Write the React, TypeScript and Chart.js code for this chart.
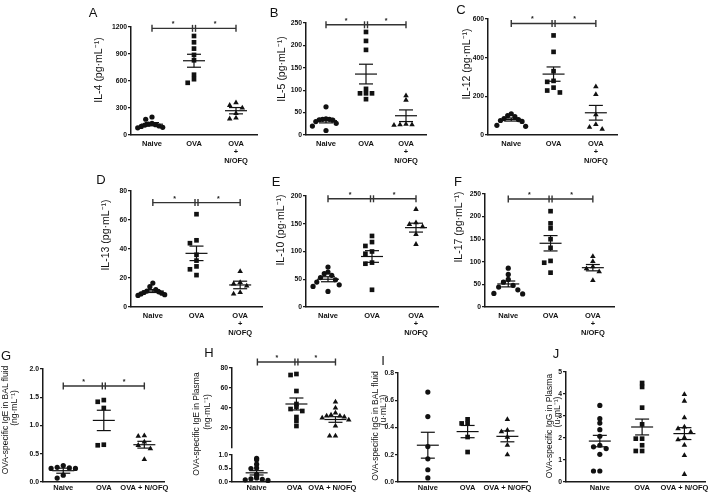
import React, { useEffect, useRef } from 'react';
import { Chart, registerables } from 'chart.js';

Chart.register(...registerables);

// ---------------- categories ----------------
const CATS_STACKED = [['Naive'], ['OVA'], ['OVA', '+', 'N/OFQ']];
const CATS_INLINE = ['Naive', 'OVA', 'OVA + N/OFQ'];

// ---------------- A: IL-4 ----------------
const A_NAIVE = [200, 175, 130, 120, 115, 110, 100, 95, 85, 80];
const A_OVA = [1100, 1030, 960, 890, 830, 670, 620, 580];
const A_NOFQ = [360, 330, 300, 240, 190, 180];
const A_MEAN = [120, 825, 270];
const A_SEM = [18, 72, 35];
const A_SIG = 1185;
const A_TICKS = [0, 300, 600, 900, 1200];

// ---------------- B: IL-5 ----------------
const B_NAIVE = [63, 36, 35, 35, 34, 33, 30, 26, 20, 10];
const B_OVA = [230, 210, 190, 103, 93, 93, 93, 80];
const B_NOFQ = [88, 78, 24, 23, 23, 22];
const B_MEAN = [32, 136, 43];
const B_SEM = [5, 22, 13];
const B_SIG = 246;
const B_TICKS = [0, 50, 100, 150, 200, 250];

// ---------------- C: IL-12 ----------------
const C_NAIVE = [110, 100, 95, 85, 80, 75, 70, 50, 45];
const C_OVA = [515, 430, 330, 280, 275, 245, 230, 220];
const C_NOFQ = [250, 210, 105, 55, 40, 30];
const C_MEAN = [80, 315, 115];
const C_SEM = [8, 37, 38];
const C_SIG = 577;
const C_TICKS = [0, 200, 400, 600];

// ---------------- D: IL-13 ----------------
const D_NAIVE = [16.5, 14, 12, 11, 10.5, 10, 9.5, 9, 8.5, 8];
const D_OVA = [64, 46, 44, 36, 32, 28, 26, 22];
const D_NOFQ = [24.5, 17, 16, 14.5, 10, 9];
const D_MEAN = [11, 37, 15.2];
const D_SEM = [1, 5, 2.6];
const D_SIG = 72;
const D_TICKS = [0, 20, 40, 60, 80];

// ---------------- E: IL-10 ----------------
const E_NAIVE = [72, 63, 60, 57, 53, 49, 45, 40, 37, 28];
const E_OVA = [128, 117, 110, 100, 96, 80, 78, 31];
const E_NOFQ = [176, 152, 149, 145, 131, 113];
const E_MEAN = [50, 91, 143];
const E_SEM = [4.5, 10.5, 8];
const E_SIG = 195;
const E_TICKS = [0, 50, 100, 150, 200];

// ---------------- F: IL-17 ----------------
const F_NAIVE = [86, 72, 61, 55, 48, 44, 38, 30, 29];
const F_OVA = [212, 185, 174, 150, 131, 102, 98, 76];
const F_NOFQ = [112, 101, 89, 85, 78, 59];
const F_MEAN = [51, 141, 87];
const F_SEM = [6.5, 17, 7];
const F_SIG = 239;
const F_TICKS = [0, 50, 100, 150, 200, 250];

// ---------------- G: OVA-specific IgE in BAL fluid ----------------
const G_NAIVE = [0.29, 0.26, 0.25, 0.24, 0.24, 0.12, 0.07];
const G_OVA = [1.45, 1.42, 1.31, 0.66, 0.65];
const G_NOFQ = [0.82, 0.81, 0.71, 0.65, 0.59, 0.4];
const G_MEAN = [0.2, 1.09, 0.66];
const G_SEM = [0.045, 0.18, 0.06];
const G_SIG = 1.7;
const G_TICKS = [0, 0.5, 1.0, 1.5, 2.0];

// ---------------- H: OVA-specific IgE in Plasma (broken axis) ----------------
const H_NAIVE = [0.88, 0.82, 0.66, 0.52, 0.5, 0.28, 0.2, 0.15, 0.12, 0.1, 0.08, 0.06];
const H_OVA = [74, 73, 57, 44, 41, 39, 37, 31, 27, 22];
const H_NOFQ = [46, 40, 35, 33, 32, 32, 31, 30, 28, 22, 12, 12];
const H_MEAN_LOW = [0.34, null, null];
const H_SEM_LOW = [0.08, 0, 0];
const H_MEAN_UP = [null, 44, 28.5];
const H_SEM_UP = [0, 6, 2.8];
const H_SIG = 86;
const H_TICKS_UP = [20, 40, 60, 80];
const H_TICKS_LOW = [0, 0.5, 1.0];

// ---------------- I: OVA-specific IgG in BAL fluid ----------------
const I_NAIVE = [0.66, 0.48, 0.26, 0.17, 0.09, 0.03];
const I_OVA = [0.46, 0.43, 0.43, 0.33, 0.22];
const I_NOFQ = [0.46, 0.38, 0.37, 0.33, 0.27, 0.2];
const I_MEAN = [0.27, 0.37, 0.335];
const I_SEM = [0.095, 0.045, 0.04];
const I_TICKS = [0, 0.2, 0.4, 0.6, 0.8];

// ---------------- J: OVA-specific IgG in Plasma ----------------
const J_NAIVE = [3.48, 2.88, 2.68, 2.38, 2.08, 1.67, 1.6, 1.52, 1.26, 0.5, 0.5];
const J_OVA = [4.5, 4.32, 3.38, 2.62, 1.97, 1.97, 1.67, 1.41, 1.41];
const J_NOFQ = [3.98, 3.68, 2.92, 2.5, 2.42, 2.27, 2.02, 1.92, 1.67, 1.21, 0.35];
const J_MEAN = [1.86, 2.5, 2.2];
const J_SEM = [0.26, 0.36, 0.27];
const J_TICKS = [0, 1, 2, 3, 4, 5];

// ---------------- styling / layout ----------------
const AX = '#1a1a1a';
const INK = '#111';
const FONT = '"Liberation Sans", Arial, sans-serif';
const XTICK_FONT = { family: FONT, size: 7.5, weight: 'bold' as const, lineHeight: 1.1 };
const YTICK_FONT = { family: FONT, size: 6.8, weight: 'bold' as const, lineHeight: 1.1 };
const YW = 40;
const PR = 4;
const STY = [
  { pointStyle: 'circle', radius: 2.6 },
  { pointStyle: 'rect', radius: 3.3 },
  { pointStyle: 'triangle', radius: 3.2 },
];

type Geo = {
  axisX: number; top: number; bottom: number; right: number;
  xmin: number; xmax: number; padTop: number; padBottom: number;
  xH: number; xPad: number; showX: boolean;
};

type PanelDef = {
  id: string;
  groups: number[][];
  means: (number | null)[];
  sems: number[];
  sig: number | null;
  yTicks: number[];
  yMin: number;
  yMax: number;
  dec: number;
  cats: (string | string[])[];
  geo: Geo;
};

const topGeo = (axisX: number, top: number, bottom: number, right: number, xmin = -0.5): Geo => ({
  axisX, top, bottom, right, xmin, xmax: 2.5, padTop: 12, padBottom: 0, xH: 30, xPad: 5, showX: true,
});
const botGeo = (axisX: number, top: number, bottom: number, right: number, xmin = -0.5): Geo => ({
  axisX, top, bottom, right, xmin, xmax: 2.5, padTop: 12, padBottom: 0, xH: 12, xPad: 2, showX: true,
});

const PANELS: PanelDef[] = [
  { id: 'A', groups: [A_NAIVE, A_OVA, A_NOFQ], means: A_MEAN, sems: A_SEM, sig: A_SIG, yTicks: A_TICKS, yMin: 0, yMax: 1200, dec: 0, cats: CATS_STACKED, geo: topGeo(131, 27, 135, 257) },
  { id: 'B', groups: [B_NAIVE, B_OVA, B_NOFQ], means: B_MEAN, sems: B_SEM, sig: B_SIG, yTicks: B_TICKS, yMin: 0, yMax: 250, dec: 0, cats: CATS_STACKED, geo: topGeo(306, 23, 135, 426) },
  { id: 'C', groups: [C_NAIVE, C_OVA, C_NOFQ], means: C_MEAN, sems: C_SEM, sig: C_SIG, yTicks: C_TICKS, yMin: 0, yMax: 600, dec: 0, cats: CATS_STACKED, geo: topGeo(488, 19, 135, 617, -0.55) },
  { id: 'D', groups: [D_NAIVE, D_OVA, D_NOFQ], means: D_MEAN, sems: D_SEM, sig: D_SIG, yTicks: D_TICKS, yMin: 0, yMax: 80, dec: 0, cats: CATS_STACKED, geo: topGeo(131, 191, 307, 262) },
  { id: 'E', groups: [E_NAIVE, E_OVA, E_NOFQ], means: E_MEAN, sems: E_SEM, sig: E_SIG, yTicks: E_TICKS, yMin: 0, yMax: 200, dec: 0, cats: CATS_STACKED, geo: topGeo(306, 196, 307, 438) },
  { id: 'F', groups: [F_NAIVE, F_OVA, F_NOFQ], means: F_MEAN, sems: F_SEM, sig: F_SIG, yTicks: F_TICKS, yMin: 0, yMax: 250, dec: 0, cats: CATS_STACKED, geo: topGeo(485, 194, 307, 614, -0.55) },
  { id: 'G', groups: [G_NAIVE, G_OVA, G_NOFQ], means: G_MEAN, sems: G_SEM, sig: G_SIG, yTicks: G_TICKS, yMin: 0, yMax: 2, dec: 1, cats: CATS_INLINE, geo: botGeo(43, 369, 482, 167) },
  { id: 'Hup', groups: [[], H_OVA, H_NOFQ], means: H_MEAN_UP, sems: H_SEM_UP, sig: H_SIG, yTicks: H_TICKS_UP, yMin: 0, yMax: 80, dec: 0, cats: CATS_INLINE,
    geo: { axisX: 232, top: 368, bottom: 448, right: 355, xmin: -0.65, xmax: 2.5, padTop: 16, padBottom: 5, xH: 0, xPad: 2, showX: false } },
  { id: 'Hlow', groups: [H_NAIVE, [], []], means: H_MEAN_LOW, sems: H_SEM_LOW, sig: null, yTicks: H_TICKS_LOW, yMin: 0, yMax: 1, dec: 1, cats: CATS_INLINE,
    geo: { axisX: 232, top: 455, bottom: 482, right: 355, xmin: -0.65, xmax: 2.5, padTop: 5, padBottom: 0, xH: 12, xPad: 2, showX: true } },
  { id: 'I', groups: [I_NAIVE, I_OVA, I_NOFQ], means: I_MEAN, sems: I_SEM, sig: null, yTicks: I_TICKS, yMin: 0, yMax: 0.8, dec: 1, cats: CATS_INLINE, geo: botGeo(398, 373, 482, 530, -0.75) },
  { id: 'J', groups: [J_NAIVE, J_OVA, J_NOFQ], means: J_MEAN, sems: J_SEM, sig: null, yTicks: J_TICKS, yMin: 0, yMax: 5, dec: 0, cats: CATS_INLINE, geo: botGeo(566, 372, 482, 707, -0.8) },
];

const LETTERS: [string, number, number][] = [
  ['A', 93, 12], ['B', 274, 12], ['C', 461, 9], ['D', 101, 179], ['E', 276, 181], ['F', 458, 181],
  ['G', 6, 355], ['H', 209, 352], ['I', 383, 360], ['J', 556, 353],
];

const SUP = '\u207B\u00B9';
const TITLES: [string, number, number, number][] = [
  [`IL-4 (pg·mL${SUP})`, 98, 70, 10.5],
  [`IL-5 (pg·mL${SUP})`, 281, 69, 10.5],
  [`IL-12 (pg·mL${SUP})`, 466, 64, 10.5],
  [`IL-13 (pg·mL${SUP})`, 105, 235, 10.5],
  [`IL-10 (pg·mL${SUP})`, 280, 230, 10.5],
  [`IL-17 (pg·mL${SUP})`, 458, 227, 10.5],
  ['OVA-specific IgE in BAL fluid', 5, 420, 8.5],
  [`(ng·mL${SUP})`, 14, 408, 8.5],
  ['OVA-specific IgE in Plasma', 196, 424, 8.5],
  [`(ng·mL${SUP})`, 207, 412, 8.5],
  ['OVA-specific IgG in BAL fluid', 375, 426, 8.5],
  [`(u·mL${SUP})`, 383, 410, 8.5],
  ['OVA-specific IgG in Plasma', 549, 426, 8.5],
  [`(u·mL${SUP})`, 557, 412, 8.5],
];

// deterministic horizontal spread for points with close values
function spread(values: number[], thr: number): number[] {
  const idx = values.map((_, i) => i).sort((a, b) => values[b] - values[a]);
  const offs = new Array(values.length).fill(0);
  let i = 0;
  while (i < idx.length) {
    let j = i + 1;
    while (j < idx.length && values[idx[j - 1]] - values[idx[j]] < thr) j++;
    const k = j - i;
    const half = Math.ceil((k - 1) / 2);
    const step = half > 0 ? Math.min(0.15, 0.34 / half) : 0;
    for (let m = 0; m < k; m++) {
      const s = m === 0 ? 0 : (m % 2 === 1 ? -1 : 1) * Math.ceil(m / 2);
      offs[idx[i + m]] = s * step;
    }
    i = j;
  }
  return offs;
}

function PanelChart({ def }: { def: PanelDef }) {
  const ref = useRef<HTMLCanvasElement>(null);
  const g = def.geo;
  const left = g.axisX - YW;
  const ctop = g.top - g.padTop;
  const width = g.right + PR - left;
  const height = g.bottom + (g.showX ? g.xH : g.padBottom) - ctop;

  useEffect(() => {
    if (!ref.current) return;
    const thr = (def.yMax - def.yMin) * 0.035;
    const datasets = def.groups.map((vals, gi) => {
      const offs = spread(vals, thr);
      return {
        type: 'scatter' as const,
        data: vals.map((v, k) => ({ x: gi + offs[k], y: v })),
        pointStyle: STY[gi].pointStyle as any,
        pointRadius: STY[gi].radius,
        pointBackgroundColor: INK,
        pointBorderColor: INK,
        pointBorderWidth: 0,
        showLine: false,
        clip: false as any,
      };
    });

    const marks = {
      id: 'marks' + def.id,
      afterDatasetsDraw(chart: any) {
        const { ctx } = chart;
        const xs = chart.scales.x;
        const ys = chart.scales.y;
        const seg = (x1: number, y1: number, x2: number, y2: number) => {
          ctx.beginPath();
          ctx.moveTo(x1, y1);
          ctx.lineTo(x2, y2);
          ctx.stroke();
        };
        ctx.save();
        ctx.strokeStyle = INK;
        ctx.lineWidth = 1.2;
        def.means.forEach((m, i) => {
          if (m == null) return;
          const px = xs.getPixelForValue(i);
          const py = ys.getPixelForValue(m);
          const hi = ys.getPixelForValue(m + def.sems[i]);
          const lo = ys.getPixelForValue(m - def.sems[i]);
          seg(px - 11, py, px + 11, py);
          seg(px - 7, hi, px + 7, hi);
          seg(px - 7, lo, px + 7, lo);
          seg(px, hi, px, lo);
        });
        if (def.sig != null) {
          const y = ys.getPixelForValue(def.sig);
          const x0 = xs.getPixelForValue(0);
          const xm = xs.getPixelForValue(1);
          const x1 = xs.getPixelForValue(2);
          ctx.strokeStyle = '#333';
          ctx.lineWidth = 1.4;
          seg(x0, y, x1, y);
          seg(x0, y - 3.5, x0, y + 3.5);
          seg(x1, y - 3.5, x1, y + 3.5);
          seg(xm - 1.5, y - 3.5, xm - 1.5, y + 3.5);
          seg(xm + 1.5, y - 3.5, xm + 1.5, y + 3.5);
          ctx.fillStyle = '#222';
          ctx.font = `bold 7px ${FONT}`;
          ctx.textAlign = 'center';
          ctx.textBaseline = 'middle';
          ctx.fillText('*', (x0 + xm) / 2, y - 4);
          ctx.fillText('*', (xm + x1) / 2, y - 4);
        }
        ctx.restore();
      },
    };

    const chart = new Chart(ref.current, {
      type: 'scatter',
      data: { datasets },
      options: {
        responsive: false,
        animation: false,
        events: [],
        layout: { padding: { top: g.padTop, right: PR, bottom: g.showX ? 0 : g.padBottom, left: 0 } },
        plugins: { legend: { display: false }, tooltip: { enabled: false } },
        scales: {
          x: {
            type: 'linear',
            display: g.showX,
            min: g.xmin,
            max: g.xmax,
            afterBuildTicks: (s: any) => { s.ticks = [0, 1, 2].map((v) => ({ value: v })); },
            afterFit: (s: any) => { s.height = g.xH; },
            grid: { display: false, drawTicks: false },
            border: { display: true, color: AX, width: 1.5 },
            ticks: {
              autoSkip: false,
              maxRotation: 0,
              padding: g.xPad,
              color: INK,
              font: XTICK_FONT,
              callback: (v: any) => (def.cats[v as number] ?? '') as any,
            },
          },
          y: {
            type: 'linear',
            min: def.yMin,
            max: def.yMax,
            afterBuildTicks: (s: any) => { s.ticks = def.yTicks.map((v) => ({ value: v })); },
            afterFit: (s: any) => { s.width = YW; },
            grid: { drawOnChartArea: false, drawTicks: true, tickLength: 3, color: AX, lineWidth: 1.2 },
            border: { display: true, color: AX, width: 1.5 },
            ticks: {
              padding: 1,
              color: INK,
              font: YTICK_FONT,
              callback: (v: any) => Number(v).toFixed(def.dec),
            },
          },
        },
      } as any,
      plugins: [marks],
    });
    return () => chart.destroy();
  }, []);

  return (
    <canvas
      ref={ref}
      width={width}
      height={height}
      style={{ position: 'absolute', left, top: ctop, width, height }}
    />
  );
}

export default function App() {
  return (
    <div
      style={{
        position: 'absolute', left: 0, top: 0, width: 709, height: 494,
        background: '#fff', overflow: 'hidden', fontFamily: FONT, color: INK,
      }}
    >
      {PANELS.map((p) => <PanelChart key={p.id} def={p} />)}
      {LETTERS.map(([t, x, y]) => (
        <div
          key={t}
          style={{
            position: 'absolute', left: x, top: y, transform: 'translate(-50%, -50%)',
            fontSize: 13, lineHeight: 1, whiteSpace: 'nowrap',
          }}
        >
          {t}
        </div>
      ))}
      {TITLES.map(([t, x, y, fs], i) => (
        <div
          key={i}
          style={{
            position: 'absolute', left: x, top: y,
            transform: 'translate(-50%, -50%) rotate(-90deg)',
            fontSize: fs, lineHeight: 1, whiteSpace: 'nowrap',
          }}
        >
          {t}
        </div>
      ))}
    </div>
  );
}
